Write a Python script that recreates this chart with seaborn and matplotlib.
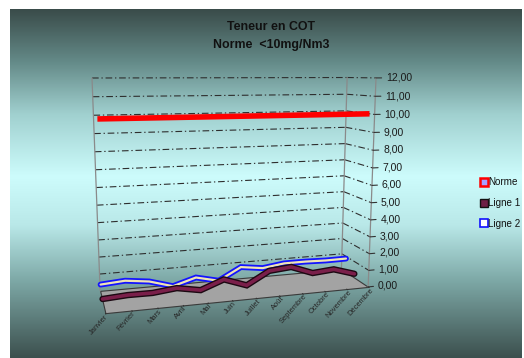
import numpy as np
import pandas as pd
import matplotlib
matplotlib.use("Agg")
import matplotlib.pyplot as plt
import seaborn as sns
from matplotlib import font_manager
from matplotlib.lines import Line2D
from matplotlib.colors import LinearSegmentedColormap
from mpl_toolkits.mplot3d import proj3d
from mpl_toolkits.mplot3d.art3d import Poly3DCollection

# ---- data -------------------------------------------------------------
mois = ["Janvier", "Février", "Mars", "Avril", "Mai", "Juin", "Juillet",
        "Août", "Septembre", "Octobre", "Novembre", "Décembre"]
norme = [10.0, 10.0, 10.0, 10.0, 10.0, 10.0, 10.0, 10.0, 10.0, 10.0, 10.0, 10.0]
ligne1 = [0.14, 0.23, 0.22, 0.37, 0.12, 0.63, 0.15, 0.90, 1.02, 0.53, 0.64, 0.24]
ligne2 = [0.57, 0.67, 0.50, 0.09, 0.49, 0.17, 0.89, 0.71, 0.89, 0.89, 0.85, 0.86]
z_ticks = [0, 1, 2, 3, 4, 5, 6, 7, 8, 9, 10, 11, 12]
z_tick_labels = ["0,00", "1,00", "2,00", "3,00", "4,00", "5,00", "6,00",
                 "7,00", "8,00", "9,00", "10,00", "11,00", "12,00"]
titre = "Teneur en COT\nNorme  <10mg/Nm3"

df = pd.DataFrame({"mois": mois, "Norme": norme, "Ligne 1": ligne1, "Ligne 2": ligne2})

sns.set_theme(style="white")
narrow = "Liberation Sans Narrow"
try:
    font_manager.findfont(narrow, fallback_to_default=False)
    fams = [narrow, "Liberation Sans", "DejaVu Sans"]
    fscale = 1.0
except Exception:
    fams = ["Liberation Sans", "DejaVu Sans"]
    fscale = 0.85
plt.rcParams["font.family"] = fams

W, H = 524, 358
fig = plt.figure(figsize=(W / 100, H / 100), dpi=100)
fig.patch.set_facecolor("white")

# ---- gradient chart area ------------------------------------------------
bg = fig.add_axes([10 / W, 0, 512 / W, 349 / H])
stops = [(0.00, (58, 76, 74)), (0.15, (100, 138, 136)), (0.30, (160, 208, 207)),
         (0.48, (205, 252, 252)), (0.62, (185, 232, 232)), (0.78, (125, 168, 166)),
         (1.00, (60, 80, 78))]
cmap = LinearSegmentedColormap.from_list(
    "fond", [(p, tuple(c / 255 for c in col)) for p, col in stops])
bg.imshow(np.linspace(0, 1, 256).reshape(-1, 1), cmap=cmap, aspect="auto",
          extent=(0, 1, 0, 1), origin="upper")
bg.set_axis_off()

# ---- 3D plot ----------------------------------------------------------
ax = fig.add_axes([0.1, 0.05, 0.7, 0.9], projection="3d")
ax.set_facecolor("none")
ax.set_axis_off()
ax.computed_zorder = False
ax.set_proj_type("persp", focal_length=0.35)
ax.view_init(elev=10, azim=-106)
ax.set_box_aspect((1.38, 0.33, 1.10), zoom=1.0)

x = np.arange(len(mois))
x0, x1 = 0, len(mois) - 1
d0, d1 = 0.0, 3.0
ax.set_xlim(x0, x1)
ax.set_ylim(d0, d1)
ax.set_zlim(0, 12)

floor = Poly3DCollection([[(x0, d0, 0), (x1, d0, 0), (x1, d1, 0), (x0, d1, 0)]],
                         facecolor="#a3a3a3", edgecolor="#3a3a3a", linewidth=0.8)
floor.set_zorder(1)
ax.add_collection3d(floor)

grid_kw = dict(color="#2e2e2e", lw=0.8, ls=(0, (6, 2.5, 1.2, 2.5)), zorder=2)
for z in z_ticks[1:]:
    ax.plot([x0, x1], [d1, d1], [z, z], **grid_kw)
    ax.plot([x1, x1], [d1, d0], [z, z], **grid_kw)

edge_kw = dict(color="#8a8a8a", lw=0.9, zorder=2)
ax.plot([x0, x0], [d1, d1], [0, 12], **edge_kw)
ax.plot([x1, x1], [d1, d1], [0, 12], **edge_kw)
ax.plot([x1, x1], [d0, d0], [0, 12], **edge_kw)

for z in z_ticks:
    ax.plot([x1, x1 + 0.25], [d0, d0], [z, z], color="#333333", lw=0.8, zorder=2)
for i in range(len(mois)):
    ax.plot([i, i], [d0, d0 - 0.12], [0, 0], color="#333333", lw=0.7, zorder=2)

# series drawn as ribbons at increasing depth
ax.plot(x, np.full(len(x), 2.5), df["Ligne 2"], color="#1414ff", lw=4.2,
        solid_joinstyle="miter", zorder=3)
ax.plot(x, np.full(len(x), 2.5), df["Ligne 2"], color="#efe4b4", lw=1.6,
        solid_joinstyle="miter", zorder=3.1)
ax.plot(x, np.full(len(x), 1.5), df["Ligne 1"], color="#1c0812", lw=4.6,
        solid_joinstyle="miter", zorder=3.2)
ax.plot(x, np.full(len(x), 1.5), df["Ligne 1"], color="#7a1f4a", lw=2.6,
        solid_joinstyle="miter", zorder=3.3)
ax.plot(x, np.full(len(x), 0.5), df["Norme"], color="#ff0000", lw=4.0,
        solid_capstyle="butt", zorder=3.4)


def project(pts):
    pts = np.asarray(pts, dtype=float)
    px, py, _ = proj3d.proj_transform(pts[:, 0], pts[:, 1], pts[:, 2], ax.get_proj())
    return ax.transData.transform(np.column_stack([px, py]))


# fit the projected box to its place in the chart area
fig.canvas.draw()
pA, pB = project([(x0, d1, 12), (x1, d0, 12)])
tA = np.array([92.0, H - 78.0])
tB = np.array([376.0, H - 80.0])
pos = ax.get_position()
c = np.array([(pos.x0 + pos.x1) / 2 * W, (pos.y0 + pos.y1) / 2 * H])
s = (tB[0] - tA[0]) / (pB[0] - pA[0])
c_new = tA - s * (pA - c)
w_new, h_new = pos.width * W * s, pos.height * H * s
ax.set_position([(c_new[0] - w_new / 2) / W, (c_new[1] - h_new / 2) / H, w_new / W, h_new / H])
fig.canvas.draw()

# axis labels placed at the projected positions of their ticks
zpix = project([(x1 + 0.45, d0, z) for z in z_ticks])
for (px, py), lab in zip(zpix, z_tick_labels):
    fig.text(px / W, py / H, lab, fontsize=8.8 * fscale, color="#1a1a1a",
             ha="left", va="center")
mpix = project([(i + 0.05, d0 - 0.3, 0) for i in range(len(mois))])
for (px, py), m in zip(mpix, mois):
    fig.text(px / W, py / H, m, fontsize=6.4 * fscale, color="#262626",
             rotation=48, rotation_mode="anchor", ha="right", va="center")

# ---- title and legend --------------------------------------------------
fig.text(271 / W, 1 - 36 / H, titre, ha="center", va="center", fontsize=10.5 * fscale,
         fontweight="bold", color="#111111", linespacing=1.6)

handles = [
    Line2D([], [], ls="none", marker="s", markersize=5.5, markerfacecolor="#a8a0ff",
           markeredgecolor="#ff0000", markeredgewidth=1.8),
    Line2D([], [], ls="none", marker="s", markersize=5.5, markerfacecolor="#6e1f45",
           markeredgecolor="#111111", markeredgewidth=1.0),
    Line2D([], [], ls="none", marker="s", markersize=5.5, markerfacecolor="white",
           markeredgecolor="#1010ff", markeredgewidth=1.2),
]
fig.legend(handles, ["Norme", "Ligne 1", "Ligne 2"], loc="center left",
           bbox_to_anchor=(476 / W, 1 - 203 / H), frameon=False, fontsize=8.4 * fscale,
           handlelength=0.6, handletextpad=0.1, labelspacing=1.1, borderpad=0,
           labelcolor="#111111")

fig.savefig("out.png", dpi=100)
